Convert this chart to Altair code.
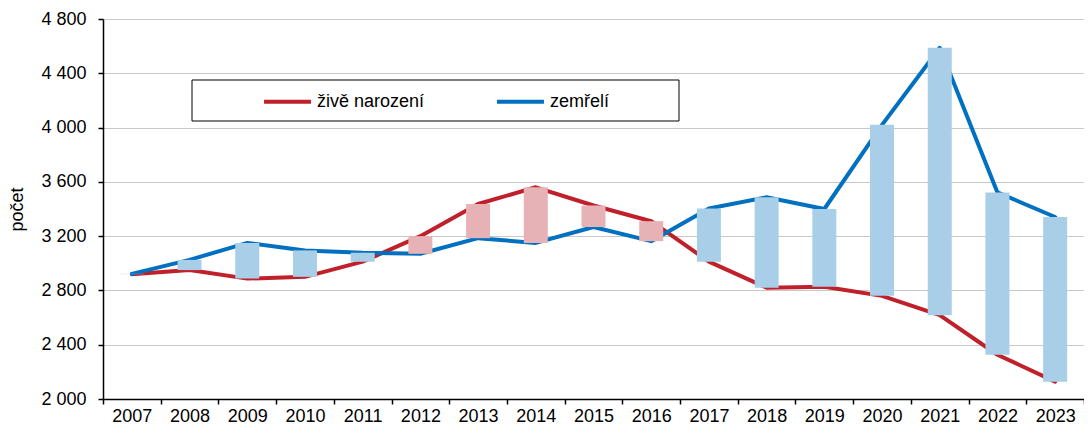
import altair as alt
import pandas as pd

# ---- data ----
years = [str(y) for y in range(2007, 2024)]
births = [2920, 2950, 2887, 2900, 3012, 3200, 3437, 3560, 3426, 3310,
          3012, 2820, 2827, 2760, 2618, 2326, 2128]
deaths = [2922, 3025, 3150, 3095, 3077, 3070, 3185, 3150, 3267, 3163,
          3404, 3486, 3400, 4020, 4588, 3522, 3341]
series_names = ["živě narození", "zemřelí"]
y_ticks = [2000, 2400, 2800, 3200, 3600, 4000, 4400, 4800]

# ---- styles ----
line_colors = ["#C0202A", "#0070C0"]
bar_births_more = "#E7B2B6"
bar_deaths_more = "#A9CEE8"
FONT = "Liberation Sans"

wide = pd.DataFrame({"rok": years, "narozeni": births, "zemreli": deaths})
long = pd.DataFrame({
    "rok": years + years,
    "hodnota": births + deaths,
    "serie": [series_names[0]] * len(years) + [series_names[1]] * len(years),
})

x_enc = alt.X(
    "rok:O",
    title=None,
    scale=alt.Scale(paddingInner=0, paddingOuter=0),
    axis=alt.Axis(labelAngle=0, tickBand="extent", grid=False,
                  tickSize=5, labelPadding=3, labelFontSize=18),
)
y_scale = alt.Scale(domain=[2000, 4800], nice=False, zero=False)
y_axis = alt.Axis(
    values=y_ticks,
    title="počet",
    labelExpr="replace(format(datum.value, ','), ',', ' ')",
    tickSize=5,
    labelPadding=12,
    titlePadding=14,
    labelFontSize=18,
    titleFontSize=18,
    titleFontWeight="normal",
)

lines = alt.Chart(long).mark_line(strokeWidth=4, strokeCap="round", strokeJoin="round").encode(
    x=x_enc,
    y=alt.Y("hodnota:Q", scale=y_scale, axis=y_axis),
    color=alt.Color(
        "serie:N",
        scale=alt.Scale(domain=series_names, range=line_colors),
        legend=alt.Legend(
            title=None,
            orient="none",
            legendX=159,
            legendY=57,
            direction="horizontal",
            columns=2,
            columnPadding=64,
            symbolType="stroke",
            symbolSize=2200,
            symbolStrokeWidth=4,
            labelOffset=4,
            labelFontSize=18,
            labelFont=FONT,
            labelColor="#000000",
        ),
    ),
    detail="serie:N",
)

bars = alt.Chart(wide).mark_bar(size=24).encode(
    x=x_enc,
    y=alt.Y("narozeni:Q", scale=y_scale, axis=y_axis),
    y2="zemreli:Q",
    color=alt.condition("datum.narozeni > datum.zemreli",
                        alt.value(bar_births_more), alt.value(bar_deaths_more)),
)

frame = alt.Chart(pd.DataFrame({"k": [0]})).mark_rect(
    filled=False, stroke="#000000", strokeWidth=1
).encode(
    x=alt.value(89), x2=alt.value(576), y=alt.value(61), y2=alt.value(102)
)

chart = alt.layer(lines, bars, frame).properties(
    width=981,
    height=380,
    autosize=alt.AutoSizeParams(type="none"),
    padding={"left": 95, "top": 11, "right": 0, "bottom": 26},
).configure_view(stroke=None).configure_axis(
    domainColor="#000000",
    domainWidth=1.5,
    tickColor="#000000",
    tickWidth=1.5,
    gridColor="#C8C8C8",
    gridWidth=1,
    labelColor="#000000",
    titleColor="#000000",
    labelFont=FONT,
    titleFont=FONT,
)

chart.save("out.html", embed_options={"renderer": "svg", "actions": False})
